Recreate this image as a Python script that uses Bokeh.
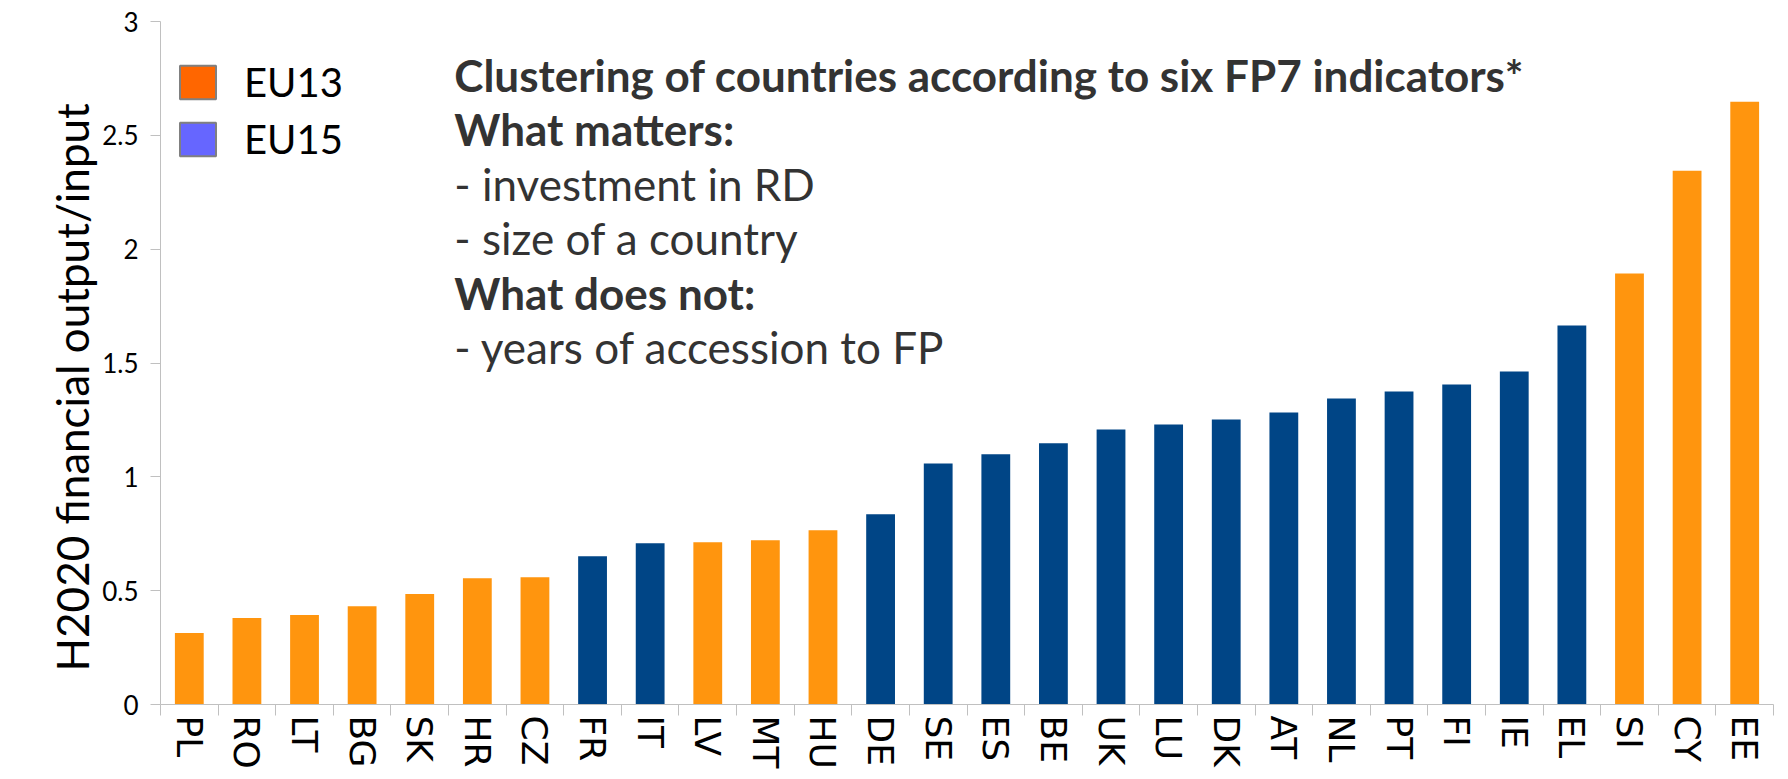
from bokeh.plotting import figure
from bokeh.models import (Range1d, FixedTicker, NumeralTickFormatter, CustomJSTickFormatter,
                          ColumnDataSource, Legend, LegendItem, Label, Title, CDSView, GroupFilter)
from bokeh.embed import file_html
from bokeh.resources import INLINE

# ---- data ----
countries = ["PL", "RO", "LT", "BG", "SK", "HR", "CZ", "FR", "IT", "LV", "MT", "HU", "DE", "SE",
             "ES", "BE", "UK", "LU", "DK", "AT", "NL", "PT", "FI", "IE", "EL", "SI", "CY", "EE"]
ratio = [0.314, 0.380, 0.393, 0.432, 0.485, 0.555, 0.559, 0.651, 0.708, 0.713, 0.721, 0.765, 0.836, 1.059,
         1.099, 1.147, 1.208, 1.230, 1.252, 1.283, 1.344, 1.375, 1.406, 1.463, 1.665, 1.893, 2.344, 2.647]
group = ["EU13", "EU13", "EU13", "EU13", "EU13", "EU13", "EU13", "EU15", "EU15", "EU13", "EU13", "EU13",
         "EU15", "EU15", "EU15", "EU15", "EU15", "EU15", "EU15", "EU15", "EU15", "EU15", "EU15", "EU15",
         "EU15", "EU13", "EU13", "EU13"]
y_ticks = [0, 0.5, 1, 1.5, 2, 2.5, 3]
legend_labels = ["EU13", "EU15"]
y_title = "H2020 financial output/input"
note_lines = ["Clustering of countries according to six FP7 indicators*",
              "What matters:",
              "- investment in RD",
              "- size of a country",
              "What does not:",
              "- years of accession to FP"]
note_bold = [True, True, False, False, True, False]

bar_colors = {"EU13": "#ff950e", "EU15": "#004586"}
legend_colors = {"EU13": "#ff6600", "EU15": "#6666ff"}

n = len(countries)
xs = [i + 0.5 for i in range(n)]
src = ColumnDataSource(dict(x=xs, top=ratio, name=countries, group=group,
                            color=[bar_colors[g] for g in group]))

p = figure(width=1776, height=771, output_backend="svg", toolbar_location=None,
           x_range=Range1d(0, n), y_range=Range1d(0, 3),
           min_border_left=160, min_border_right=3, min_border_top=21, min_border_bottom=0)
p.outline_line_color = None
p.xgrid.grid_line_color = None
p.ygrid.grid_line_color = None
p.background_fill_color = "white"
p.border_fill_color = "white"

p.vbar(x="x", top="top", width=0.5, bottom=0, source=src, fill_color="color", line_color=None)

# legend: hidden renderers (same data, per group) carrying the legend swatch style
items = []
for lab in legend_labels:
    r = p.vbar(x="x", top="top", width=0.5, source=src,
               view=CDSView(filter=GroupFilter(column_name="group", group=lab)),
               fill_color=legend_colors[lab], line_color="#808080", line_width=2, visible=False)
    items.append(LegendItem(label=lab, renderers=[r]))
leg = Legend(items=items, location=(15, 541), orientation="vertical",
             glyph_width=45, glyph_height=42, label_standoff=24, spacing=9, padding=0, margin=0,
             label_text_font="Lato", label_text_font_size="40px", label_text_color="black",
             background_fill_alpha=0, border_line_color=None,
             inactive_fill_alpha=0, click_policy="none")
p.add_layout(leg)

# y axis
ya = p.yaxis[0]
ya.ticker = FixedTicker(ticks=y_ticks)
ya.formatter = NumeralTickFormatter(format="0.[0]")
ya.major_label_text_font = "Lato"
ya.major_label_text_font_size = "26px"
ya.major_label_text_color = "black"
ya.major_label_standoff = 12
ya.major_tick_out = 10
ya.major_tick_in = 0
ya.minor_tick_line_color = None
ya.axis_line_color = "#c0c0c0"
ya.major_tick_line_color = "#c0c0c0"

# y axis title as a side title, anchored near the bottom of the frame
p.add_layout(Title(text=y_title, align="left", offset=33, vertical_align="top",
                   text_font="Lato", text_font_size="44px", text_font_style="normal",
                   text_color="black", standoff=0), "left")

# x axis: labels at centres, boundary ticks as minor ticks
xa = p.xaxis[0]
xa.ticker = FixedTicker(ticks=xs, minor_ticks=list(range(n + 1)))
xa.formatter = CustomJSTickFormatter(args=dict(names=countries),
                                     code="return names[Math.floor(tick)] || '';")
xa.major_label_orientation = "vertical"
xa.major_label_text_font = "DejaVu Sans"
xa.major_label_text_font_size = "36px"
xa.major_label_text_color = "black"
xa.major_tick_line_color = None
xa.major_tick_out = 0
xa.major_tick_in = 0
xa.major_label_standoff = 0
xa.minor_tick_out = 11
xa.minor_tick_in = 0
xa.minor_tick_line_color = "#c0c0c0"
xa.axis_line_color = "#c0c0c0"

# annotation text
y0 = 2.765
step = 0.239
for k, (txt, b) in enumerate(zip(note_lines, note_bold)):
    p.add_layout(Label(x=5.1, y=y0 - k * step, text=txt, text_font="Lato",
                       text_font_size="44px", text_color="#333333",
                       text_font_style="bold" if b else "normal",
                       text_baseline="alphabetic", text_align="left"))

open("out.html", "w").write(file_html(p, INLINE))
